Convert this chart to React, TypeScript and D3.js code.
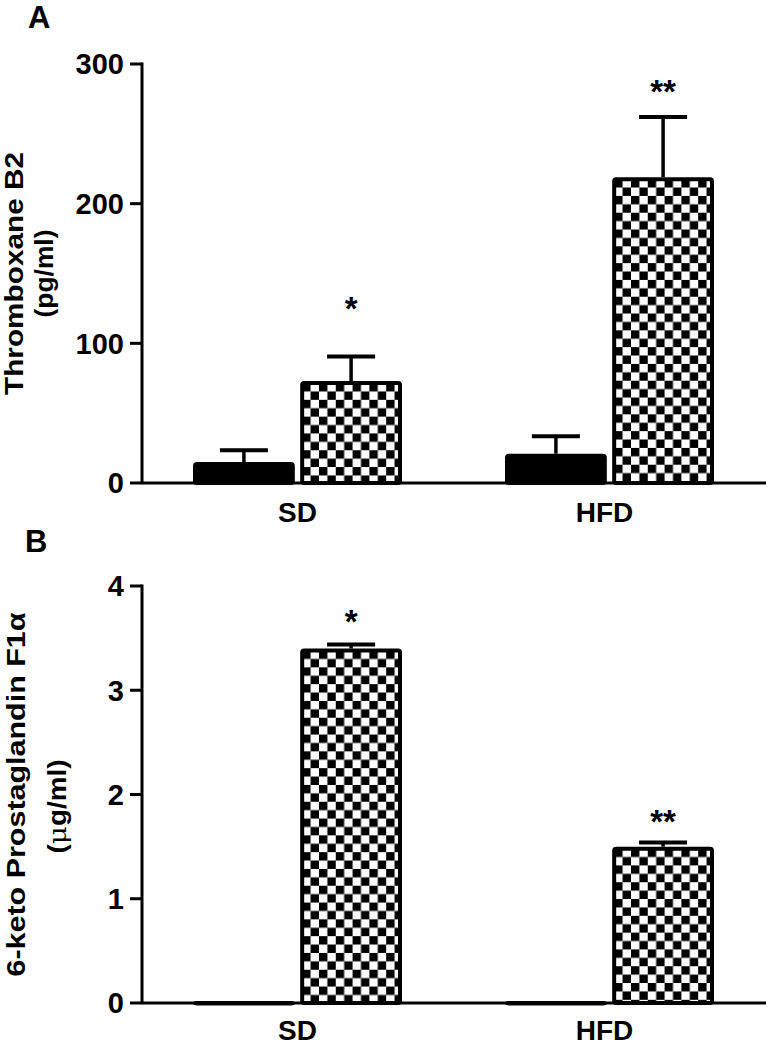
import React from "react";
import * as d3 from "d3";

const categories = ["SD", "HFD"];
const series = ["control", "treated"];

// Panel A: Thromboxane B2 (pg/ml)
const aControl = [15, 21];
const aControlErr = [8.5, 12.5];
const aTreated = [73, 219];
const aTreatedErr = [17.5, 43];
const aTicks = [0, 100, 200, 300];
const aStars = ["*", "**"];
const aStarY = [117, 272];

// Panel B: 6-keto Prostaglandin F1α (µg/ml)
const bControl = [0.02, 0.02];
const bControlErr = [0, 0];
const bTreated = [3.4, 1.5];
const bTreatedErr = [0.04, 0.04];
const bTicks = [0, 1, 2, 3, 4];
const bStars = ["*", "**"];
const bStarY = [3.55, 1.63];

const FONT = "'Liberation Sans', Arial, Helvetica, sans-serif";

type PanelProps = {
  id: string;
  letter: string;
  letterX: number;
  letterY: number;
  yTop: number;
  yBottom: number;
  domainMax: number;
  ticks: number[];
  control: number[];
  controlErr: number[];
  treated: number[];
  treatedErr: number[];
  stars: string[];
  starY: number[];
  title1: string;
  title1Len: number;
  title1X: number;
  title2: React.ReactNode;
  title2X: number;
  title2Len: number;
  title2Dy: number;
  xLabelY: number;
};

function Panel(p: PanelProps) {
  const y = d3.scaleLinear().domain([0, p.domainMax]).range([p.yBottom, p.yTop]);
  const centers = d3.scaleOrdinal<string, number>().domain(categories).range([297.5, 609.5]);
  const xs = d3.scaleBand<string>().domain(series).range([-104.5, 104.5]).paddingInner(0.05);
  const bw = xs.bandwidth();
  const sw = 4;
  const sq = 8.4;
  const midY = (p.yTop + p.yBottom) / 2;

  const bars: any[] = [];
  categories.forEach((c, i) => {
    [
      { s: "control", v: p.control[i], e: p.controlErr[i] },
      { s: "treated", v: p.treated[i], e: p.treatedErr[i] },
    ].forEach((b) => {
      const left = centers(c) + (xs(b.s) as number);
      bars.push({ c, i, ...b, left });
    });
  });

  return (
    <g>
      <defs>
        {bars
          .filter((b) => b.s === "treated")
          .map((b) => (
            <pattern
              key={b.c}
              id={`chk-${p.id}-${b.i}`}
              patternUnits="userSpaceOnUse"
              x={b.left + sw / 2}
              y={y(b.v) + sw / 2}
              width={sq * 2}
              height={sq * 2}
            >
              <rect width={sq * 2} height={sq * 2} fill="#fff" />
              <rect x={0} y={0} width={sq} height={sq} fill="#000" />
              <rect x={sq} y={sq} width={sq} height={sq} fill="#000" />
            </pattern>
          ))}
      </defs>
      <text x={p.letterX} y={p.letterY} fontFamily={FONT} fontWeight="bold" fontSize={31}>
        {p.letter}
      </text>
      {bars.map((b) => {
        const top = y(b.v);
        const h = Math.max(p.yBottom - top - sw / 2, 0.5);
        return (
          <rect
            key={b.c + b.s}
            x={b.left + sw / 2}
            y={top + sw / 2}
            width={bw - sw}
            height={h}
            rx={2}
            fill={b.s === "control" ? "#000" : `url(#chk-${p.id}-${b.i})`}
            stroke="#000"
            strokeWidth={sw}
            strokeLinejoin="round"
          />
        );
      })}
      {bars
        .filter((b) => b.e > 0)
        .map((b) => {
          const cx = b.left + bw / 2;
          return (
            <g key={"e" + b.c + b.s}>
              <line x1={cx} x2={cx} y1={y(b.v)} y2={y(b.v + b.e)} stroke="#000" strokeWidth={3.5} />
              <line x1={cx - 24} x2={cx + 24} y1={y(b.v + b.e)} y2={y(b.v + b.e)} stroke="#000" strokeWidth={4} />
            </g>
          );
        })}
      {categories.map((c, i) => (
        <text
          key={"s" + c}
          x={centers(c) + (xs("treated") as number) + bw / 2}
          y={y(p.starY[i])}
          textAnchor="middle"
          fontFamily={FONT}
          fontWeight="bold"
          fontSize={33}
        >
          {p.stars[i]}
        </text>
      ))}
      <line x1={142} x2={142} y1={p.yTop - 1.5} y2={p.yBottom} stroke="#000" strokeWidth={3} />
      {p.ticks.map((t) => (
        <g key={"t" + t}>
          <line x1={130} x2={142} y1={y(t)} y2={y(t)} stroke="#000" strokeWidth={3} />
          <text
            x={124}
            y={y(t)}
            dy="0.36em"
            textAnchor="end"
            fontFamily={FONT}
            fontWeight="bold"
            fontSize={29}
          >
            {t}
          </text>
        </g>
      ))}
      <line x1={142} x2={766} y1={p.yBottom} y2={p.yBottom} stroke="#000" strokeWidth={3} />
      {categories.map((c) => (
        <text
          key={"x" + c}
          x={centers(c) - (c === "HFD" ? 5 : 0)}
          y={p.xLabelY}
          textAnchor="middle"
          fontFamily={FONT}
          fontWeight="bold"
          fontSize={28}
        >
          {c}
        </text>
      ))}
      <text
        transform={`translate(${p.title1X},${midY}) rotate(-90)`}
        textAnchor="middle"
        fontFamily={FONT}
        fontWeight="bold"
        fontSize={25}
        textLength={p.title1Len}
        lengthAdjust="spacingAndGlyphs"
      >
        {p.title1}
      </text>
      <text
        transform={`translate(${p.title2X},${midY + p.title2Dy}) rotate(-90)`}
        textAnchor="middle"
        fontFamily={FONT}
        fontWeight="bold"
        fontSize={25}
        textLength={p.title2Len}
        lengthAdjust="spacingAndGlyphs"
      >
        {p.title2}
      </text>
    </g>
  );
}

export default function App() {
  return (
    <svg
      width={771}
      height={1045}
      viewBox="0 0 771 1045"
      style={{ position: "absolute", left: 0, top: 0, background: "#fff" }}
    >
      <rect width={771} height={1045} fill="#fff" />
      <Panel
        id="a"
        letter="A"
        letterX={28}
        letterY={28}
        yTop={64}
        yBottom={483}
        domainMax={300}
        ticks={aTicks}
        control={aControl}
        controlErr={aControlErr}
        treated={aTreated}
        treatedErr={aTreatedErr}
        stars={aStars}
        starY={aStarY}
        title1="Thromboxane B2"
        title1Len={243}
        title1X={23}
        title2="(pg/ml)"
        title2X={53}
        title2Len={88}
        title2Dy={0}
        xLabelY={522}
      />
      <Panel
        id="b"
        letter="B"
        letterX={25}
        letterY={552}
        yTop={586}
        yBottom={1003}
        domainMax={4}
        ticks={bTicks}
        control={bControl}
        controlErr={bControlErr}
        treated={bTreated}
        treatedErr={bTreatedErr}
        stars={bStars}
        starY={bStarY}
        title1="6-keto Prostaglandin F1α"
        title1Len={364}
        title1X={25}
        title2={
          <>
            (<tspan fontWeight="normal" fontFamily="'DejaVu Serif', serif">μ</tspan>g/ml)
          </>
        }
        title2X={66}
        title2Len={94}
        title2Dy={12}
        xLabelY={1040}
      />
    </svg>
  );
}
